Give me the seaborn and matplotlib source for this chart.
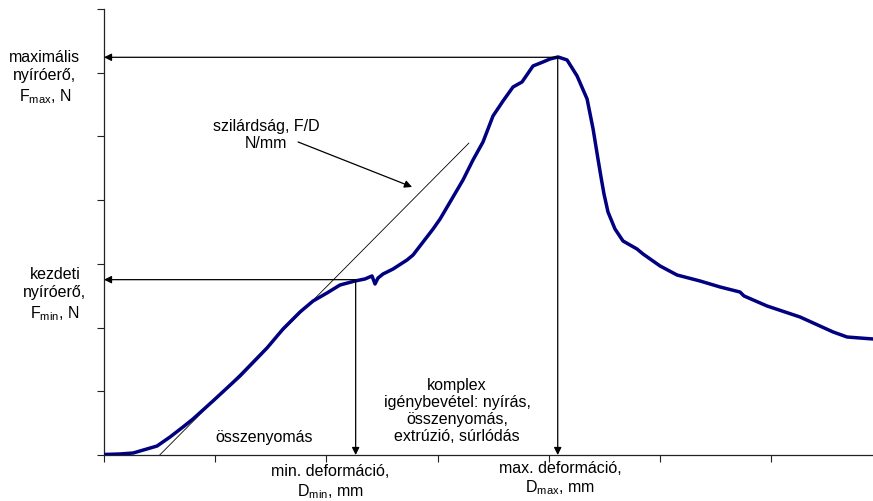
import matplotlib
matplotlib.use("Agg")
import matplotlib.pyplot as plt
import seaborn as sns
import pandas as pd

# Shear test curve: deformation (mm) vs. shear force (N)
deformation = [0.000, 0.144, 0.261, 0.324, 0.477, 0.594, 0.710, 0.800, 0.980,
               1.223, 1.466, 1.610, 1.673, 1.763, 1.880, 2.005, 2.122, 2.257,
               2.347, 2.410, 2.437, 2.464, 2.509, 2.599, 2.725, 2.779, 2.869,
               2.959, 3.022, 3.112, 3.228, 3.318, 3.408, 3.498, 3.588, 3.678,
               3.759, 3.858, 3.948, 4.011, 4.083, 4.164, 4.254, 4.344, 4.398,
               4.442, 4.469, 4.496, 4.532, 4.595, 4.667, 4.793, 4.847, 5.000,
               5.153, 5.360, 5.540, 5.719, 5.755, 5.962, 6.259, 6.556, 6.682,
               6.799, 6.915]
force = [0.008, 0.016, 0.031, 0.063, 0.141, 0.283, 0.439, 0.565, 0.848,
         1.240, 1.680, 1.978, 2.088, 2.245, 2.417, 2.543, 2.668, 2.731,
         2.763, 2.810, 2.684, 2.778, 2.841, 2.919, 3.061, 3.139, 3.343,
         3.547, 3.704, 3.971, 4.316, 4.630, 4.913, 5.321, 5.556, 5.776,
         5.855, 6.106, 6.169, 6.216, 6.247, 6.200, 5.949, 5.588, 5.117,
         4.646, 4.364, 4.097, 3.814, 3.547, 3.359, 3.233, 3.155, 2.967,
         2.825, 2.731, 2.637, 2.558, 2.496, 2.339, 2.166, 1.931, 1.852,
         1.836, 1.821]

# Characteristic points
F_max = 6.242
D_max = 4.080
F_min = 2.752
D_min = 2.263

# Tangent of the linear (compression) section
tangent_x = [0.501, 3.282]
tangent_y = [0.000, 4.897]

x_ticks = [0, 1, 2, 3, 4, 5, 6]
y_ticks = [0, 1, 2, 3, 4, 5, 6, 7]

sns.set_theme(style="ticks")
plt.rcParams["font.family"] = ["Liberation Sans", "DejaVu Sans"]
plt.rcParams["mathtext.fontset"] = "custom"
plt.rcParams["mathtext.rm"] = "Liberation Sans"
plt.rcParams["mathtext.it"] = "Liberation Sans"

fig = plt.figure(figsize=(8.73, 5.02), dpi=100)
ax = fig.add_axes([104 / 873, 46 / 502, 769 / 873, 446 / 502])

df = pd.DataFrame({"D": deformation, "F": force})
sns.lineplot(data=df, x="D", y="F", ax=ax, color="#000080", lw=2.5,
             sort=False, zorder=3)

ax.plot(tangent_x, tangent_y, color="black", lw=0.6, zorder=2)

ax.set_xlim(0, 6.915)
ax.set_ylim(0, 7)
ax.set_xticks(x_ticks)
ax.set_yticks(y_ticks)
ax.set_xticklabels([])
ax.set_yticklabels([])
ax.set_xlabel("")
ax.set_ylabel("")
ax.tick_params(axis="both", direction="out", length=5, width=0.8,
               color="#222222")
for side in ("top", "right"):
    ax.spines[side].set_visible(False)
for side in ("left", "bottom"):
    ax.spines[side].set_linewidth(0.9)
    ax.spines[side].set_color("#222222")

arrow = dict(arrowstyle="-|>", mutation_scale=11, lw=0.9, color="black",
             shrinkA=0, shrinkB=0)

# Max force / max deformation
ax.annotate("", xy=(0, F_max), xytext=(D_max, F_max), arrowprops=arrow,
            annotation_clip=False)
ax.annotate("", xy=(D_max, 0), xytext=(D_max, F_max), arrowprops=arrow,
            annotation_clip=False)
# Initial force / min deformation
ax.annotate("", xy=(0, F_min), xytext=(D_min, F_min), arrowprops=arrow,
            annotation_clip=False)
ax.annotate("", xy=(D_min, 0), xytext=(D_min, F_min), arrowprops=arrow,
            annotation_clip=False)
# Strength arrow
ax.annotate("", xy=(2.770, 4.207), xytext=(1.745, 4.913), arrowprops=arrow)

fs = 11.5
kw = dict(ha="center", va="center", fontsize=fs, color="black",
          multialignment="center", clip_on=False)

ax.text(-0.531, 5.933, "maximális\nnyíróerő,\nF$_{\\mathregular{max}}$, N",
        linespacing=1.3, **kw)
ax.text(-0.441, 2.527, "kezdeti\nnyíróerő,\nF$_{\\mathregular{min}}$, N",
        linespacing=1.25, **kw)
ax.text(1.46, 5.038, "szilárdság, F/D\nN/mm", linespacing=1.1, **kw)
ax.text(1.443, 0.298, "összenyomás", **kw)
ax.text(3.174, 0.706,
        "komplex\nigénybevétel: nyírás,\nösszenyomás,\nextrúzió, súrlódás",
        linespacing=1.18, **kw)
ax.text(2.032, -0.416, "min. deformáció,\nD$_{\\mathregular{min}}$, mm",
        linespacing=1.25, **kw)
ax.text(4.101, -0.361, "max. deformáció,\nD$_{\\mathregular{max}}$, mm",
        linespacing=1.2, **kw)

fig.savefig("out.png", dpi=100, facecolor="white")
